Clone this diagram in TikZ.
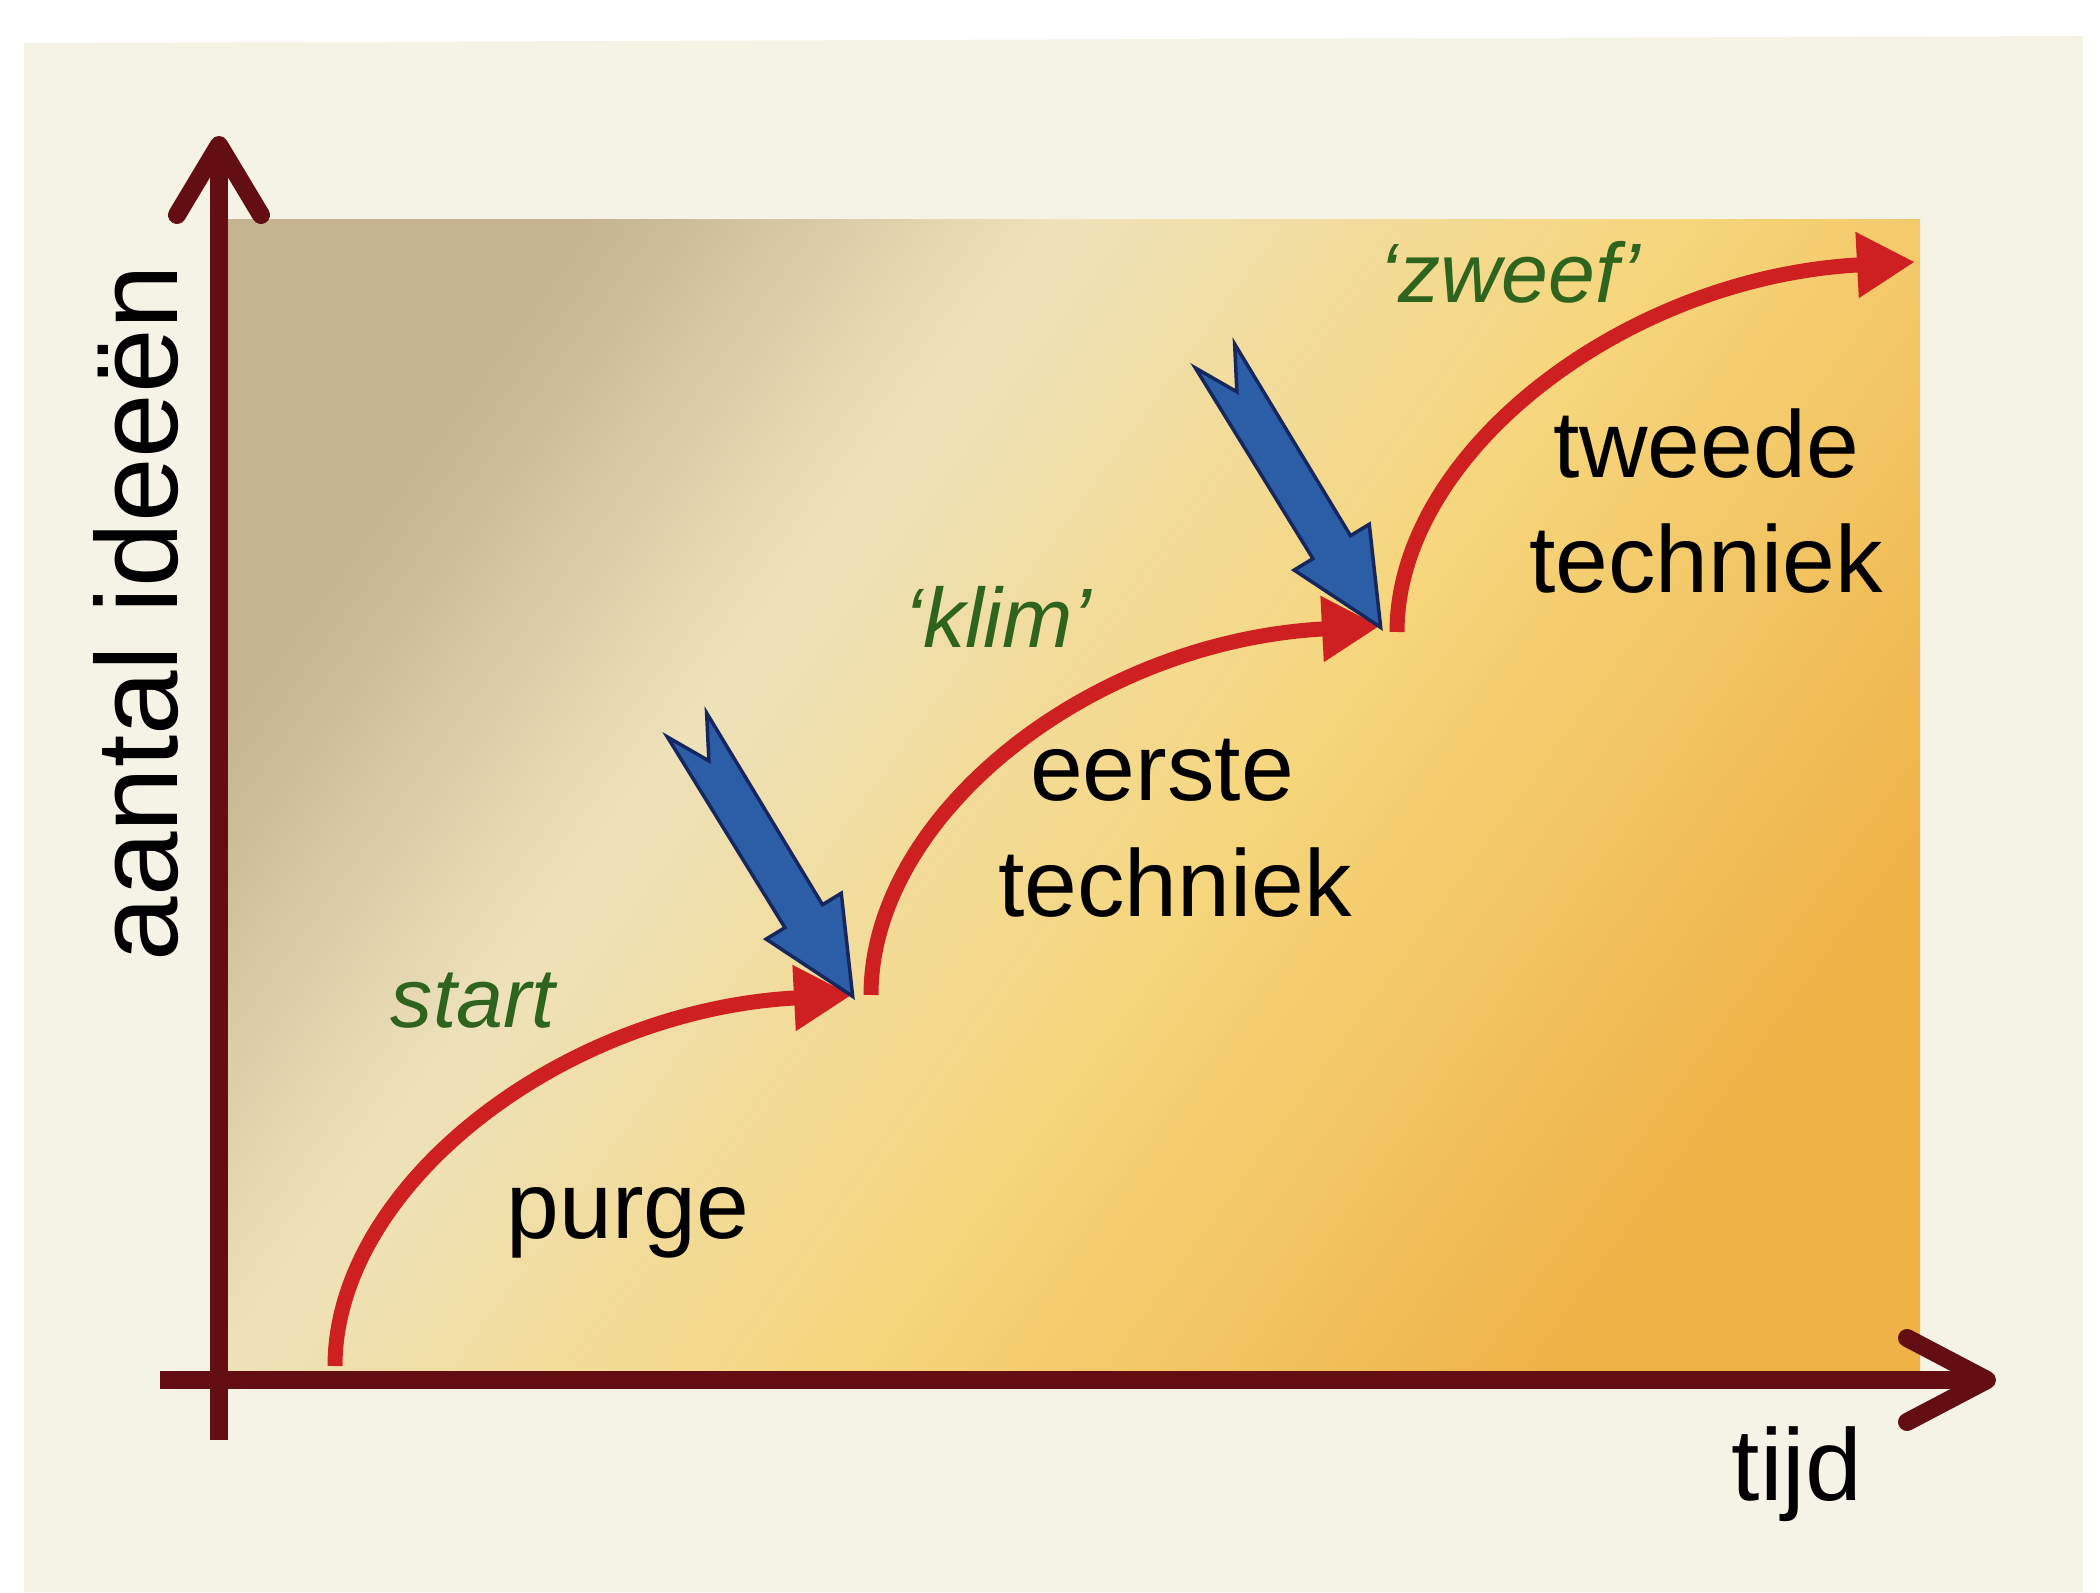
\documentclass[tikz,border=0pt]{standalone}
\usepackage{fontspec}
\setmainfont{Liberation Sans}
\usetikzlibrary{arrows.meta}
\definecolor{pagec}{RGB}{245,242,230}
\definecolor{tanc}{RGB}{196,180,145}
\definecolor{creamc}{RGB}{238,226,186}
\definecolor{yelc}{RGB}{246,214,125}
\definecolor{orc}{RGB}{238,178,70}
\definecolor{axisc}{RGB}{98,14,18}
\definecolor{curvec}{RGB}{206,32,32}
\definecolor{greenc}{RGB}{46,100,30}
\definecolor{bluefill}{RGB}{44,94,168}
\definecolor{blueedge}{RGB}{22,38,94}
\pgfdeclarehorizontalshading{bgsh}{100bp}{color(0bp)=(tanc); color(25bp)=(tanc); color(38bp)=(creamc); color(55bp)=(yelc); color(75bp)=(orc); color(100bp)=(orc)}
\tikzset{
  axisline/.style={draw=axisc, line width=1.8mm, line cap=round, line join=round},
  redcurve/.style={draw=curvec, line width=1.5mm, -{Triangle[length=5.8mm, width=6.2mm]}},
  bluearrow/.style={fill=bluefill, draw=blueedge, line width=0.35mm, line join=miter},
  blacklabel/.style={text=black, font=\fontsize{27}{33}\selectfont, anchor=base, inner sep=0pt},
  greenlabel/.style={text=greenc, font=\itshape\fontsize{24}{29}\selectfont, anchor=base, inner sep=0pt}
}
\begin{document}
\begin{tikzpicture}[x=0.1mm, y=0.1mm]
\useasboundingbox (0,0) rectangle (2100,1592);
\fill[white] (0,0) rectangle (2100,1592);
\fill[pagec] (24,0) -- (2083,0) -- (2083,1556) -- (24,1549) -- cycle;
% coloured field
\shade[shading=bgsh, shading angle=-36] (228,220) rectangle (1920,1372);
% axes
\coordinate (o1) at (219,152);
\coordinate (ytip) at (219,1447);
\coordinate (o2) at (160,212);
\coordinate (xtip) at (1987,212);
\draw[axisline, line cap=butt] (o1) -- (ytip);
\draw[axisline, line cap=butt] (o2) -- (xtip);
\draw[axisline] (ytip) ++(-42,-70) -- (ytip) -- ++(42,-70);
\draw[axisline] (xtip) ++(-80,42) -- (xtip) -- ++(-80,-42);
% red curves
\coordinate (s1) at (335,226);
\coordinate (e1) at (852,597);
\coordinate (s2) at (871,597);
\coordinate (e2) at (1380,966);
\coordinate (s3) at (1397,960);
\coordinate (e3) at (1915,1330);
\draw[redcurve] (s1) .. controls +(0,180) and +(-290,-15) .. (e1);
\draw[redcurve] (s2) .. controls +(0,180) and +(-290,-15) .. (e2);
\draw[redcurve] (s3) .. controls +(0,180) and +(-290,-15) .. (e3);
% blue arrows
\coordinate (b1) at (687,867);
\coordinate (b2) at (1215,1236);
\foreach \b in {b1,b2}{
  \begin{scope}[shift={(\b)}, rotate=-58.6]
    \draw[bluearrow] (0,23) -- (42,0) -- (0,-23) -- (224,-22) -- (224,-44) -- (318,0) -- (224,44) -- (224,22) -- cycle;
  \end{scope}
}
% labels
\node[greenlabel] (lstart) at (473,564) {start};
\node[greenlabel] (lklim) at (998,944) {‘klim’};
\node[greenlabel] (lzweef) at (1510,1289) {‘zweef’};
\node[blacklabel] (lpurge) at (628,353) {purge};
\node[blacklabel] (leerste) at (1162,791) {eerste};
\node[blacklabel] (ltech1) at (1175,675) {techniek};
\node[blacklabel] (ltweede) at (1706,1114) {tweede};
\node[blacklabel] (ltech2) at (1706,999) {techniek};
\node[blacklabel, font=\fontsize{29}{35}\selectfont] (ltijd) at (1797,92) {tijd};
\node[blacklabel, font=\fontsize{33}{40}\selectfont, rotate=90] (lyaxis) at (178,979) {aantal ideeën};
\end{tikzpicture}
\end{document}
